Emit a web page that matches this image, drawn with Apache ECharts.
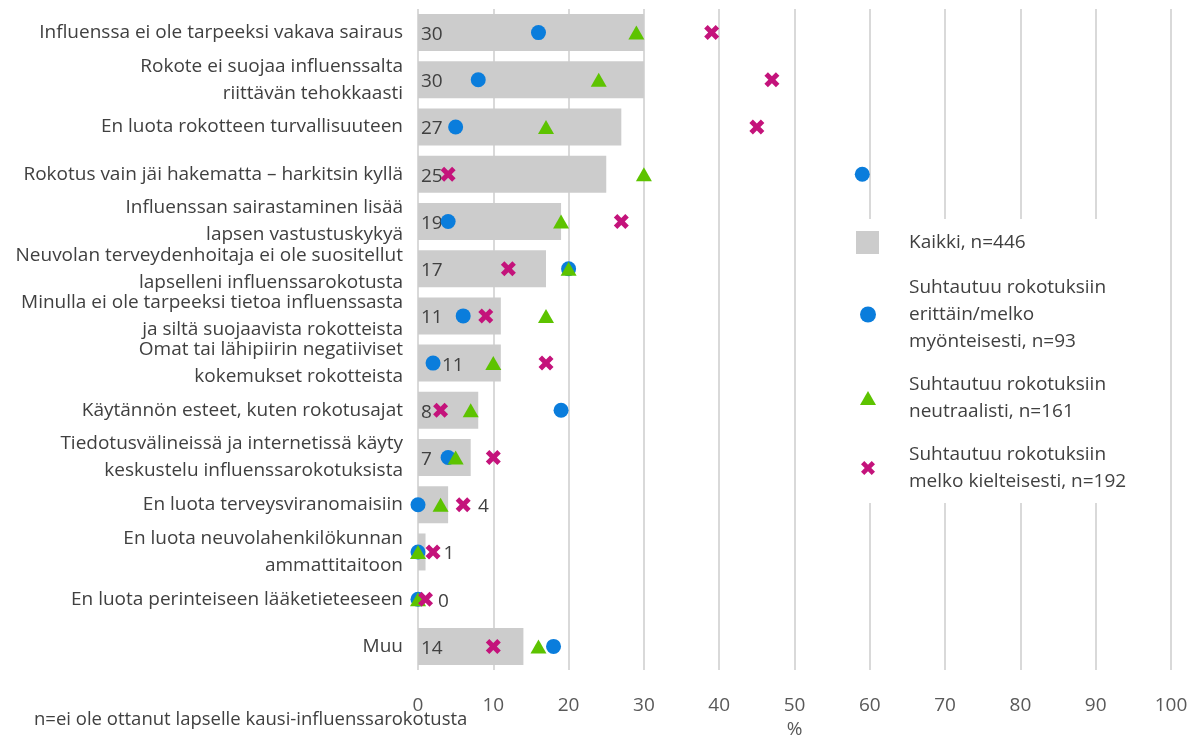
<!DOCTYPE html>
<html>
<head>
<meta charset="utf-8">
<script src="https://cdn.jsdelivr.net/npm/echarts@6/dist/echarts.min.js"></script>
<style>
  html, body { margin: 0; padding: 0; background: #fff; }
  #chart { width: 1199px; height: 736px; }
</style>
</head>
<body>
<div id="chart"></div>
<script>
// syyt, miksi lapselle ei otettu rokotusta
const categories = [
  'Influenssa ei ole tarpeeksi vakava sairaus',
  'Rokote ei suojaa influenssalta\nriittävän tehokkaasti',
  'En luota rokotteen turvallisuuteen',
  'Rokotus vain jäi hakematta – harkitsin kyllä',
  'Influenssan sairastaminen lisää\nlapsen vastustuskykyä',
  'Neuvolan terveydenhoitaja ei ole suositellut\nlapselleni influenssarokotusta',
  'Minulla ei ole tarpeeksi tietoa influenssasta\nja siltä suojaavista rokotteista',
  'Omat tai lähipiirin negatiiviset\nkokemukset rokotteista',
  'Käytännön esteet, kuten rokotusajat',
  'Tiedotusvälineissä ja internetissä käyty\nkeskustelu influenssarokotuksista',
  'En luota terveysviranomaisiin',
  'En luota neuvolahenkilökunnan\nammattitaitoon',
  'En luota perinteiseen lääketieteeseen',
  'Muu'
]
const kaikki     = [30, 30, 27, 25, 19, 17, 11, 11, 8, 7, 4, 1, 0, 14]
const myonteinen = [16, 8, 5, 59, 4, 20, 6, 2, 19, 4, 0, 0, 0, 18]
const neutraali  = [29, 24, 17, 30, 19, 20, 17, 10, 7, 5, 3, 0, 0, 16]
const kielteinen = [39, 47, 45, 4, 27, 12, 9, 17, 3, 10, 6, 2, 1, 10]
const xTicks = { min: 0, max: 100, interval: 10 }

const names = [
  'Kaikki, n=446',
  'Suhtautuu rokotuksiin\nerittäin/melko\nmyönteisesti, n=93',
  'Suhtautuu rokotuksiin\nneutraalisti, n=161',
  'Suhtautuu rokotuksiin\nmelko kielteisesti, n=192'
]

const textColor = '#404040'
const font = 'Open Sans'
const fs = 19
const crossPath = 'path://M0,3.5 L3.5,0 L7.5,4 L11.5,0 L15,3.5 L11,7.5 L15,11.5 L11.5,15 L7.5,11 L3.5,15 L0,11.5 L4,7.5 Z'

// pienten pylväiden arvot on siirretty oikealle
const labelTweaks = {
  7: { offset: [21, 2] },
  10: { position: 'right', distance: 30 },
  11: { position: 'right', distance: 18 },
  12: { position: 'right', distance: 20 }
}

const barData = kaikki.map((v, i) => {
  return labelTweaks[i] ? { value: v, label: labelTweaks[i] } : v
})

function legendItem (name, left, top, w, h, pad, icon) {
  return {
    data: [{ name: name, icon: icon }],
    orient: 'vertical',
    left: left,
    top: top,
    padding: 0,
    itemWidth: w,
    itemHeight: h,
    selectedMode: false,
    textStyle: {
      fontFamily: font,
      fontSize: fs,
      color: textColor,
      lineHeight: 27,
      padding: [0, 0, 0, pad]
    }
  }
}

const chart = echarts.init(document.getElementById('chart'))
chart.setOption({
  animation: false,
  textStyle: { fontFamily: font },
  grid: {
    left: 418, right: 28, top: 9, bottom: 66,
    containLabel: false,
    outerBoundsMode: 'none'
  },
  graphic: [
    {
      type: 'rect',
      z: 1,
      shape: { x: 848, y: 219, width: 318, height: 284 },
      style: { fill: '#fff' }
    },
    {
      type: 'text',
      left: 34,
      top: 710,
      style: {
        text: 'n=ei ole ottanut lapselle kausi-influenssarokotusta',
        font: '18.5px "Open Sans"',
        fill: textColor
      }
    }
  ],
  legend: [
    legendItem(names[0], 856, 229, 23, 23, 25, 'rect'),
    legendItem(names[1], 860, 274, 16, 16, 28),
    legendItem(names[2], 860, 371, 16, 14, 28),
    legendItem(names[3], 861, 441, 14, 14, 29)
  ],
  xAxis: {
    type: 'value',
    min: xTicks.min,
    max: xTicks.max,
    interval: xTicks.interval,
    name: '%',
    nameLocation: 'middle',
    nameGap: 49,
    nameTextStyle: { fontSize: fs, color: '#595959', fontFamily: font },
    axisLine: { show: false },
    axisTick: { show: false },
    axisLabel: { fontSize: fs, color: '#595959', margin: 26 },
    splitLine: { show: true, lineStyle: { color: '#d9d9d9', width: 2 } }
  },
  yAxis: {
    type: 'category',
    inverse: true,
    data: categories,
    axisLine: { show: false },
    axisTick: { show: false },
    axisLabel: {
      fontSize: fs,
      color: textColor,
      margin: 15,
      lineHeight: 27,
      padding: [5, 0, 0, 0],
      align: 'right'
    }
  },
  series: [
    {
      name: names[0],
      type: 'bar',
      data: barData,
      barWidth: 37,
      itemStyle: { color: '#cccccc' },
      label: {
        show: true,
        position: 'insideLeft',
        distance: 3,
        offset: [0, 2],
        fontSize: fs,
        color: textColor
      }
    },
    {
      name: names[1],
      type: 'scatter',
      data: myonteinen,
      symbol: 'circle',
      symbolSize: 15,
      itemStyle: { color: '#0A7DDC', opacity: 1 }
    },
    {
      name: names[2],
      type: 'scatter',
      data: neutraali,
      symbol: 'triangle',
      symbolSize: [16, 14],
      itemStyle: { color: '#5DC300', opacity: 1 }
    },
    {
      name: names[3],
      type: 'scatter',
      data: kielteinen,
      symbol: crossPath,
      symbolSize: 15,
      itemStyle: { color: '#C4137B', opacity: 1 }
    }
  ]
})
</script>
</body>
</html>
